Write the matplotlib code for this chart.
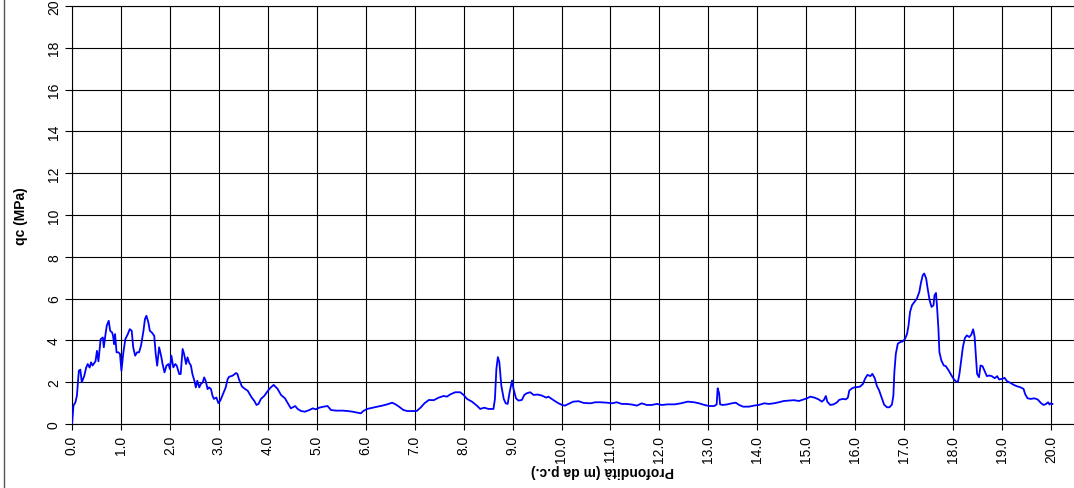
import matplotlib
matplotlib.use("Agg")
import matplotlib.pyplot as plt
from matplotlib.lines import Line2D

plt.rcParams['font.family'] = ['Liberation Sans', 'DejaVu Sans']

depth = [0.0, 0.03, 0.07, 0.10, 0.14, 0.17, 0.20, 0.25, 0.29, 0.32, 0.36, 0.39, 0.42, 0.48, 0.51,
         0.54, 0.585, 0.63, 0.65, 0.68, 0.71, 0.75, 0.78, 0.82, 0.84, 0.86, 0.88, 0.91, 0.95,
         0.98, 1.01, 1.05, 1.09, 1.14, 1.18, 1.22, 1.25, 1.29, 1.33, 1.37, 1.41, 1.46, 1.49,
         1.52, 1.56, 1.59, 1.63, 1.68, 1.71, 1.74, 1.78, 1.82, 1.85, 1.89, 1.93, 1.97, 2.00,
         2.03, 2.07, 2.11, 2.14, 2.19, 2.22, 2.26, 2.29, 2.33, 2.36, 2.39, 2.43, 2.46, 2.50,
         2.53, 2.56, 2.60, 2.63, 2.67, 2.70, 2.73, 2.77, 2.80, 2.84, 2.87, 2.90, 2.95, 2.99,
         3.03, 3.07, 3.11, 3.14, 3.18, 3.21, 3.28, 3.35, 3.38, 3.41, 3.47, 3.52, 3.59, 3.63,
         3.67, 3.72, 3.77, 3.81, 3.86, 3.93, 3.99, 4.06, 4.12, 4.20, 4.27, 4.35, 4.41, 4.47,
         4.56, 4.61, 4.68, 4.76, 4.85, 4.92, 4.98, 5.05, 5.14, 5.22, 5.29, 5.39, 5.53, 5.63,
         5.73, 5.83, 5.90, 5.95, 6.03, 6.14, 6.24, 6.34, 6.44, 6.54, 6.61, 6.68, 6.77, 6.85,
         6.95, 7.04, 7.12, 7.20, 7.29, 7.39, 7.49, 7.59, 7.66, 7.73, 7.83, 7.93, 8.00, 8.07,
         8.17, 8.27, 8.34, 8.42, 8.51, 8.61, 8.64, 8.67, 8.70, 8.73, 8.77, 8.82, 8.86, 8.90,
         8.94, 8.99, 9.02, 9.07, 9.12, 9.19, 9.24, 9.29, 9.36, 9.43, 9.51, 9.60, 9.69, 9.73,
         9.80, 9.87, 9.94, 10.01, 10.07, 10.14, 10.24, 10.35, 10.45, 10.59, 10.69, 10.79, 10.93,
         11.03, 11.13, 11.23, 11.33, 11.44, 11.54, 11.64, 11.74, 11.84, 11.95, 12.05, 12.17,
         12.31, 12.44, 12.58, 12.71, 12.81, 12.92, 13.02, 13.12, 13.17, 13.19, 13.22, 13.24,
         13.29, 13.39, 13.48, 13.56, 13.63, 13.71, 13.83, 13.93, 14.03, 14.14, 14.24, 14.34,
         14.44, 14.54, 14.64, 14.75, 14.85, 14.95, 15.02, 15.08, 15.17, 15.25, 15.32, 15.36,
         15.40, 15.43, 15.49, 15.56, 15.63, 15.67, 15.74, 15.81, 15.85, 15.88, 15.93, 15.99,
         16.03, 16.10, 16.16, 16.20, 16.25, 16.31, 16.35, 16.40, 16.44, 16.49, 16.55, 16.59,
         16.65, 16.70, 16.75, 16.78, 16.80, 16.83, 16.87, 16.92, 16.97, 17.02, 17.06, 17.09,
         17.12, 17.16, 17.21, 17.26, 17.31, 17.34, 17.38, 17.41, 17.45, 17.48, 17.52, 17.56,
         17.60, 17.62, 17.65, 17.67, 17.70, 17.72, 17.76, 17.81, 17.85, 17.91, 17.96, 18.01,
         18.06, 18.10, 18.13, 18.17, 18.20, 18.24, 18.28, 18.33, 18.37, 18.41, 18.44, 18.47,
         18.49, 18.53, 18.56, 18.60, 18.64, 18.69, 18.74, 18.79, 18.85, 18.90, 18.94, 19.00,
         19.05, 19.10, 19.17, 19.24, 19.30, 19.37, 19.44, 19.47, 19.52, 19.59, 19.66, 19.73,
         19.80, 19.85, 19.90, 19.94, 19.97, 19.99, 20.03]

qc = [0.0, 0.88, 1.04, 1.35, 2.55, 2.60, 2.00, 2.30, 2.70, 2.87, 2.70, 2.95, 2.80, 3.00, 3.50,
      3.00, 4.06, 4.14, 3.67, 4.22, 4.70, 4.94, 4.46, 4.38, 4.20, 3.82, 4.30, 3.43, 3.43,
      3.35, 2.55, 3.43, 4.06, 4.30, 4.54, 4.46, 3.67, 3.27, 3.43, 3.43, 3.75, 4.46, 5.02,
      5.18, 4.86, 4.46, 4.38, 4.22, 3.35, 2.79, 3.67, 3.27, 2.87, 2.47, 2.79, 2.87, 2.63,
      3.27, 2.71, 2.87, 2.79, 2.39, 2.39, 3.59, 3.35, 2.87, 3.19, 2.95, 2.79, 2.39, 2.07,
      1.75, 2.07, 1.75, 1.91, 1.99, 2.23, 2.07, 1.67, 1.75, 1.67, 1.35, 1.20, 1.27, 1.00,
      1.12, 1.35, 1.59, 1.75, 2.15, 2.26, 2.31, 2.44, 2.39, 2.15, 1.80, 1.70, 1.59, 1.43,
      1.27, 1.12, 0.91, 0.96, 1.20, 1.35, 1.55, 1.75, 1.87, 1.68, 1.39, 1.23, 0.99, 0.75,
      0.86, 0.72, 0.62, 0.59, 0.67, 0.75, 0.70, 0.78, 0.83, 0.86, 0.67, 0.64, 0.64, 0.62,
      0.59, 0.54, 0.51, 0.62, 0.72, 0.78, 0.83, 0.88, 0.94, 1.02, 0.94, 0.83, 0.67, 0.62,
      0.62, 0.62, 0.78, 0.99, 1.15, 1.14, 1.26, 1.34, 1.31, 1.42, 1.52, 1.52, 1.39, 1.20,
      1.07, 0.88, 0.72, 0.78, 0.72, 0.72, 1.20, 2.64, 3.20, 2.96, 1.84, 1.20, 0.99, 0.96,
      1.52, 2.08, 1.68, 1.23, 1.12, 1.15, 1.39, 1.47, 1.52, 1.39, 1.41, 1.36, 1.26, 1.31,
      1.20, 1.09, 0.99, 0.91, 0.88, 0.96, 1.07, 1.09, 1.01, 0.99, 1.04, 1.04, 1.02,
      0.99, 1.04, 0.96, 0.96, 0.93, 0.88, 0.99, 0.91, 0.91, 0.96, 0.91, 0.94,
      0.94, 0.99, 1.07, 1.04, 0.99, 0.91, 0.86, 0.86, 0.94, 1.71, 1.47, 0.94,
      0.91, 0.94, 0.99, 1.02, 0.91, 0.83, 0.83, 0.88, 0.91, 0.99, 0.96, 0.99,
      1.04, 1.10, 1.12, 1.14, 1.10, 1.18, 1.23, 1.31, 1.26, 1.18, 1.07, 1.15,
      1.34, 1.07, 0.91, 0.94, 1.04, 1.15, 1.20, 1.18, 1.26, 1.60, 1.70, 1.76,
      1.76, 1.79, 1.92, 2.16, 2.35, 2.29, 2.40, 2.19, 1.84, 1.60, 1.20, 0.93,
      0.80, 0.80, 0.93, 1.36, 2.48, 3.36, 3.84, 3.92, 3.95, 4.08, 4.32, 4.72,
      5.36, 5.68, 5.84, 6.00, 6.32, 6.72, 7.12, 7.20, 6.96, 6.48, 5.92, 5.60,
      5.68, 6.16, 6.27, 5.68, 4.56, 3.44, 3.04, 2.80, 2.77, 2.56, 2.35, 2.16,
      2.03, 2.03, 2.40, 3.12, 3.68, 4.11, 4.24, 4.16, 4.27, 4.53, 4.16, 3.12,
      2.40, 2.24, 2.80, 2.77, 2.56, 2.29, 2.32, 2.29, 2.19, 2.29, 2.13, 2.16,
      2.21, 2.05, 1.97, 1.87, 1.81, 1.76, 1.68, 1.44, 1.23, 1.20, 1.23, 1.17,
      0.99, 0.91, 0.96, 1.04, 0.93, 0.99, 0.96]

x_ticks = list(range(0, 21))
x_tick_labels = [f"{v:.1f}" for v in x_ticks]
y_ticks = list(range(0, 21, 2))
y_tick_labels = [str(v) for v in y_ticks]

W, H = 1074, 489
fig = plt.figure(figsize=(W / 100, H / 100), dpi=100)
left, right, top, bottom = 72, 1074, 7, 425
ax = fig.add_axes([left / W, 1 - bottom / H, (right - left) / W, (bottom - top) / H])

ax.plot(depth, qc, color='#0000FF', lw=1.3, zorder=3)

ax.set_xlim(0, (right - left) / 48.95)
ax.set_ylim(0, 20)
ax.set_xticks(x_ticks)
ax.set_xticklabels(x_tick_labels, rotation=90, fontsize=10)
ax.set_yticks(y_ticks)
ax.set_yticklabels(y_tick_labels, rotation=90, fontsize=10, va='center')
ax.tick_params(axis='both', direction='out', length=5, width=0.8, color='black', pad=3)
ax.tick_params(axis='x', length=4, pad=4)
ax.grid(True, color='black', lw=0.8, zorder=1)
ax.set_axisbelow(True)
for s in ['right']:
    ax.spines[s].set_visible(False)
for s in ['left', 'bottom', 'top']:
    ax.spines[s].set_color('black')
    ax.spines[s].set_linewidth(0.8)

fig.text(21 / W, 1 - 216 / H, 'qc (MPa)', rotation=90, fontsize=10, fontweight='bold',
         ha='center', va='center')
fig.text(602 / W, 1 - 471 / H, 'Profondità (m da p.c.)', rotation=180, fontsize=10,
         fontweight='bold', ha='center', va='center')

fig.add_artist(Line2D([3.5 / W, 3.5 / W], [0, 1], transform=fig.transFigure,
                      color='#555555', lw=1.0))

fig.savefig('out.png', dpi=100)
